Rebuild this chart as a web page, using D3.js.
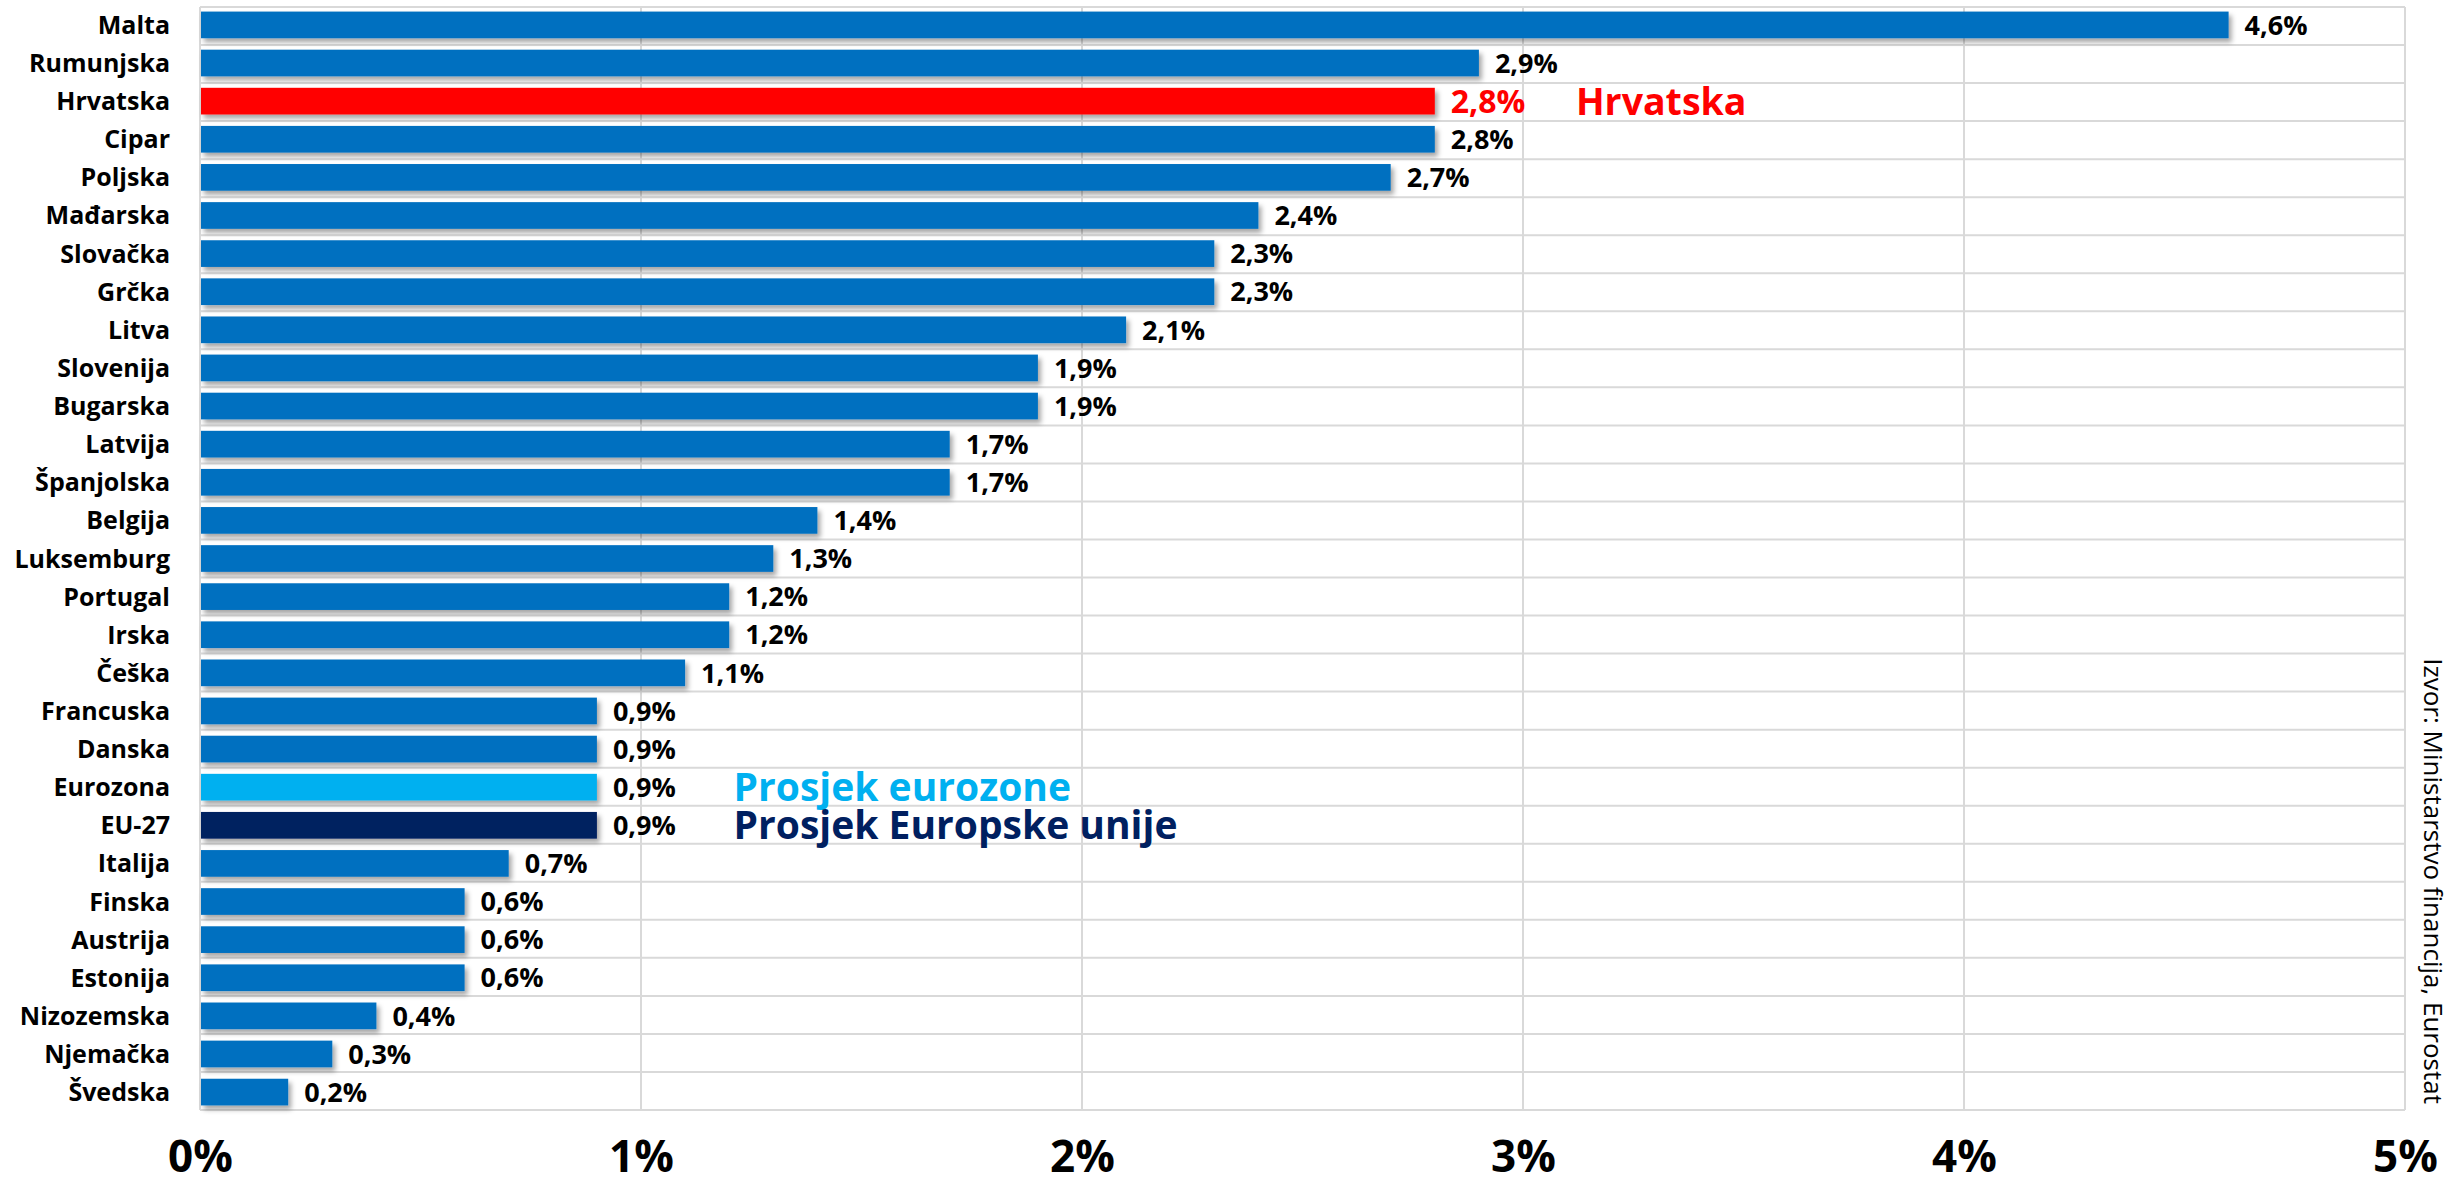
<!DOCTYPE html>
<html><head><meta charset="utf-8">
<script src="https://cdn.jsdelivr.net/npm/d3@7"></script>
<style>html,body{margin:0;padding:0;background:#fff;}svg{display:block;}</style>
</head><body>
<script>
const categories = ["Malta","Rumunjska","Hrvatska","Cipar","Poljska","Mađarska","Slovačka","Grčka","Litva","Slovenija","Bugarska","Latvija","Španjolska","Belgija","Luksemburg","Portugal","Irska","Češka","Francuska","Danska","Eurozona","EU-27","Italija","Finska","Austrija","Estonija","Nizozemska","Njemačka","Švedska"];
const values = [4.6,2.9,2.8,2.8,2.7,2.4,2.3,2.3,2.1,1.9,1.9,1.7,1.7,1.4,1.3,1.2,1.2,1.1,0.9,0.9,0.9,0.9,0.7,0.6,0.6,0.6,0.4,0.3,0.2];
const tickValues = [0,1,2,3,4,5];
const tickLabels = ["0%","1%","2%","3%","4%","5%"];
const highlight = {"Hrvatska":"#FF0000","Eurozona":"#00B0F0","EU-27":"#002060"};
const annotations = [
  {cat:"Hrvatska", text:"Hrvatska", color:"#FF0000", x:3.12, size:37.5},
  {cat:"Eurozona", text:"Prosjek eurozone", color:"#00B0F0", x:1.21, size:39},
  {cat:"EU-27", text:"Prosjek Europske unije", color:"#002060", x:1.21, size:39}
];
const source = "Izvor: Ministarstvo financija, Eurostat";

(function(){
const W = 2451, H = 1189;
const pL = 200, pR = 2405, pT = 7, pB = 1110;
const svg = d3.select("body").append("svg").attr("width", W).attr("height", H);

const defs = svg.append("defs");
const f = defs.append("filter").attr("id","sh").attr("x","-5%").attr("y","-30%").attr("width","120%").attr("height","180%");
f.append("feDropShadow").attr("dx",3).attr("dy",4).attr("stdDeviation",2.5).attr("flood-color","#000").attr("flood-opacity",0.35);

const x = d3.scaleLinear().domain([0,5]).range([pL,pR]);
const y = d3.scaleBand().domain(categories).range([pT,pB]).paddingInner(0.3).paddingOuter(0.12);
const yRow = d3.scaleBand().domain(categories).range([pT,pB]);

const grid = svg.append("g").attr("stroke","#d9d9d9").attr("stroke-width",2);
categories.forEach(c => {
  grid.append("line").attr("x1",pL).attr("x2",pR).attr("y1",yRow(c)).attr("y2",yRow(c));
});
grid.append("line").attr("x1",pL).attr("x2",pR).attr("y1",pB).attr("y2",pB);
tickValues.forEach(t => {
  grid.append("line").attr("x1",x(t)).attr("x2",x(t)).attr("y1",pT).attr("y2",pB);
});

const data = categories.map((c,i)=>({c, v: values[i]}));
svg.append("g").selectAll("rect").data(data).join("rect")
  .attr("x", x(0)+1).attr("y", d=>y(d.c))
  .attr("width", d=>x(d.v)-x(0)-1).attr("height", y.bandwidth())
  .attr("fill", d=>highlight[d.c] || "#0070C0")
  .attr("filter","url(#sh)");

const fmt = v => v.toFixed(1).replace(".",",") + "%";
svg.append("g").selectAll("text").data(data).join("text")
  .attr("x", d=>x(d.v)+16).attr("y", d=>y(d.c)+y.bandwidth()/2)
  .attr("dy","0.36em")
  .attr("font-family","'Open Sans', sans-serif").attr("font-weight",700)
  .attr("font-size", d=> d.c==="Hrvatska" ? 32 : 27)
  .attr("fill", d=> d.c==="Hrvatska" ? "#FF0000" : "#000")
  .text(d=>fmt(d.v));

svg.append("g").selectAll("text").data(categories).join("text")
  .attr("x", 170).attr("y", c=>y(c)+y.bandwidth()/2).attr("dy","0.36em")
  .attr("text-anchor","end")
  .attr("font-family","'Open Sans', sans-serif").attr("font-weight",700).attr("font-size",25)
  .attr("fill","#000").text(c=>c);

const xAxis = d3.axisBottom(x).tickValues(tickValues).tickFormat((d,i)=>tickLabels[i]).tickSize(0).tickPadding(0);
const ax = svg.append("g").attr("transform",`translate(0,${pB+31})`).call(xAxis);
ax.select(".domain").remove();
ax.selectAll("text").attr("font-family","'Open Sans', sans-serif").attr("font-weight",700).attr("font-size",44).attr("fill","#000");

svg.append("g").selectAll("text").data(annotations).join("text")
  .attr("x", d=>x(d.x)).attr("y", d=>y(d.cat)+y.bandwidth()/2).attr("dy","0.36em")
  .attr("font-family","'Open Sans', sans-serif").attr("font-weight",700).attr("font-size",d=>d.size)
  .attr("fill", d=>d.color).text(d=>d.text);

svg.append("text")
  .attr("transform", `translate(2424,1104) rotate(90)`)
  .attr("text-anchor","end")
  .attr("font-family","'Open Sans', sans-serif").attr("font-size",26).attr("fill","#000")
  .text(source);
})();
</script>
</body></html>
